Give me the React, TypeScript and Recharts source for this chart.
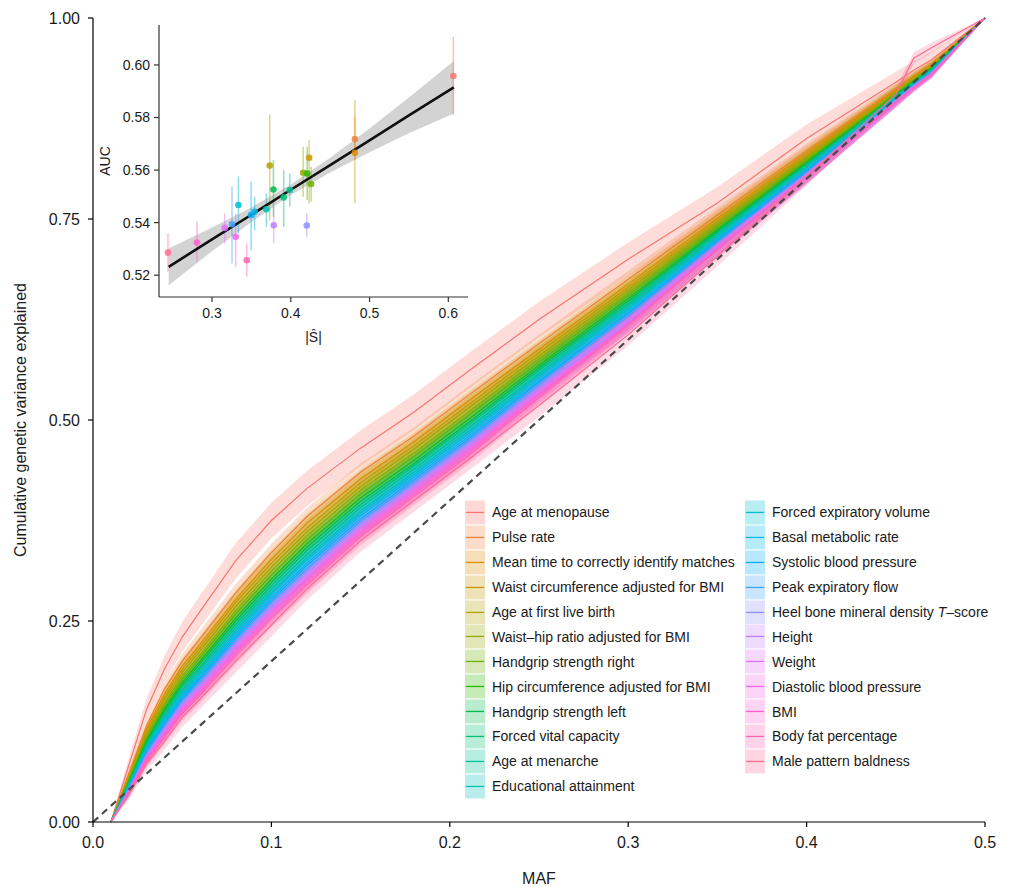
import React from 'react';
import { ComposedChart, Line, Area, XAxis, YAxis, ReferenceLine, Scatter, ErrorBar } from 'recharts';

const FONT = '"Liberation Sans", Arial, Helvetica, sans-serif';
const INK = '#1a1a1a';

// ---------- main panel data ----------
const mafGrid = [0.01, 0.02, 0.03, 0.04, 0.05, 0.06, 0.08, 0.10, 0.12, 0.15, 0.18, 0.21, 0.25, 0.30, 0.35, 0.40, 0.45, 0.46, 0.47, 0.50];

const ageAtMenopause = [0, 0.070, 0.140, 0.190, 0.230, 0.262, 0.325, 0.375, 0.415, 0.465, 0.510, 0.560, 0.625, 0.700, 0.770, 0.850, 0.920, 0.935, 0.948, 1];
const pulseRate = [0, 0.060, 0.120, 0.165, 0.200, 0.228, 0.285, 0.335, 0.380, 0.435, 0.480, 0.530, 0.595, 0.675, 0.755, 0.835, 0.912, 0.928, 0.943, 1];
const meanTimeMatches = [0, 0.058, 0.116, 0.159, 0.194, 0.221, 0.277, 0.327, 0.372, 0.427, 0.473, 0.523, 0.588, 0.669, 0.751, 0.832, 0.910, 0.927, 0.942, 1];
const waistCircAdj = [0, 0.056, 0.113, 0.155, 0.190, 0.217, 0.273, 0.322, 0.366, 0.422, 0.468, 0.518, 0.584, 0.665, 0.748, 0.829, 0.909, 0.926, 0.941, 1];
const ageFirstBirth = [0, 0.055, 0.110, 0.152, 0.186, 0.213, 0.268, 0.317, 0.361, 0.417, 0.464, 0.514, 0.580, 0.662, 0.745, 0.827, 0.908, 0.925, 0.940, 1];
const waistHipAdj = [0, 0.053, 0.107, 0.148, 0.182, 0.208, 0.263, 0.312, 0.356, 0.413, 0.459, 0.509, 0.576, 0.658, 0.742, 0.825, 0.907, 0.924, 0.939, 1];
const gripRight = [0, 0.052, 0.105, 0.145, 0.178, 0.204, 0.259, 0.307, 0.351, 0.408, 0.455, 0.505, 0.572, 0.655, 0.740, 0.823, 0.906, 0.923, 0.939, 1];
const hipCircAdj = [0, 0.050, 0.102, 0.141, 0.174, 0.200, 0.254, 0.302, 0.346, 0.403, 0.450, 0.500, 0.568, 0.651, 0.737, 0.821, 0.905, 0.922, 0.938, 1];
const gripLeft = [0, 0.049, 0.100, 0.138, 0.171, 0.197, 0.250, 0.298, 0.342, 0.399, 0.446, 0.496, 0.565, 0.648, 0.735, 0.819, 0.904, 0.921, 0.937, 1];
const forcedVital = [0, 0.048, 0.098, 0.135, 0.168, 0.193, 0.246, 0.294, 0.338, 0.395, 0.443, 0.493, 0.562, 0.645, 0.733, 0.818, 0.903, 0.920, 0.936, 1];
const ageMenarche = [0, 0.046, 0.095, 0.132, 0.164, 0.190, 0.242, 0.290, 0.333, 0.391, 0.439, 0.489, 0.558, 0.642, 0.730, 0.816, 0.902, 0.919, 0.935, 1];
const education = [0, 0.045, 0.093, 0.129, 0.161, 0.186, 0.238, 0.286, 0.329, 0.387, 0.435, 0.485, 0.555, 0.639, 0.728, 0.814, 0.901, 0.918, 0.934, 1];
const forcedExp = [0, 0.044, 0.091, 0.127, 0.158, 0.183, 0.235, 0.283, 0.326, 0.384, 0.432, 0.482, 0.552, 0.637, 0.726, 0.813, 0.900, 0.917, 0.934, 1];
const basalMetabolic = [0, 0.043, 0.089, 0.124, 0.156, 0.180, 0.232, 0.279, 0.322, 0.381, 0.429, 0.479, 0.549, 0.634, 0.724, 0.811, 0.899, 0.917, 0.933, 1];
const systolicBP = [0, 0.042, 0.088, 0.122, 0.153, 0.178, 0.229, 0.276, 0.319, 0.377, 0.426, 0.476, 0.547, 0.632, 0.723, 0.810, 0.899, 0.916, 0.933, 1];
const peakFlow = [0, 0.041, 0.086, 0.119, 0.151, 0.175, 0.226, 0.273, 0.315, 0.374, 0.423, 0.473, 0.544, 0.629, 0.721, 0.808, 0.898, 0.916, 0.932, 1];
const heelBone = [0, 0.040, 0.084, 0.117, 0.148, 0.172, 0.223, 0.269, 0.312, 0.371, 0.420, 0.470, 0.541, 0.620, 0.712, 0.803, 0.898, 0.915, 0.932, 1];
const heightTrait = [0, 0.039, 0.082, 0.115, 0.145, 0.169, 0.220, 0.266, 0.309, 0.368, 0.417, 0.467, 0.539, 0.625, 0.717, 0.806, 0.897, 0.915, 0.931, 1];
const weightTrait = [0, 0.038, 0.080, 0.112, 0.143, 0.166, 0.216, 0.263, 0.305, 0.365, 0.414, 0.464, 0.536, 0.622, 0.715, 0.804, 0.896, 0.914, 0.931, 1];
const diastolicBP = [0, 0.037, 0.079, 0.110, 0.140, 0.164, 0.213, 0.260, 0.302, 0.361, 0.411, 0.461, 0.533, 0.620, 0.714, 0.803, 0.896, 0.914, 0.930, 1];
const bmiTrait = [0, 0.036, 0.077, 0.107, 0.138, 0.161, 0.210, 0.256, 0.298, 0.358, 0.408, 0.458, 0.531, 0.619, 0.713, 0.803, 0.895, 0.913, 0.930, 1];
const bodyFat = [0, 0.035, 0.075, 0.105, 0.135, 0.158, 0.207, 0.253, 0.295, 0.355, 0.405, 0.455, 0.528, 0.618, 0.712, 0.803, 0.895, 0.913, 0.930, 1];
const baldness = [0, 0.033, 0.072, 0.100, 0.130, 0.153, 0.200, 0.245, 0.290, 0.350, 0.400, 0.450, 0.518, 0.606, 0.704, 0.803, 0.905, 0.950, 0.963, 1];

// confidence ribbon: shared shape along MAF and per-trait half-width
const ciProfile = [0, 0.4, 0.6, 0.75, 0.85, 0.9, 1, 1, 1, 1, 1, 1, 1, 0.95, 0.9, 0.8, 0.6, 0.5, 0.45, 0];
const ciHalfWidth = [0.022, 0.011, 0.011, 0.011, 0.011, 0.011, 0.011, 0.011, 0.011, 0.011, 0.011, 0.011, 0.011, 0.011, 0.011, 0.011, 0.012, 0.011, 0.011, 0.011, 0.011, 0.011, 0.014];

const traitNames = [
  'Age at menopause', 'Pulse rate', 'Mean time to correctly identify matches', 'Waist circumference adjusted for BMI',
  'Age at first live birth', 'Waist\u2013hip ratio adjusted for BMI', 'Handgrip strength right', 'Hip circumference adjusted for BMI',
  'Handgrip strength left', 'Forced vital capacity', 'Age at menarche', 'Educational attainment',
  'Forced expiratory volume', 'Basal metabolic rate', 'Systolic blood pressure', 'Peak expiratory flow',
  'Heel bone mineral density T\u2013score', 'Height', 'Weight', 'Diastolic blood pressure', 'BMI', 'Body fat percentage', 'Male pattern baldness',
];
const traitCurves = [
  ageAtMenopause, pulseRate, meanTimeMatches, waistCircAdj, ageFirstBirth, waistHipAdj, gripRight, hipCircAdj,
  gripLeft, forcedVital, ageMenarche, education, forcedExp, basalMetabolic, systolicBP, peakFlow,
  heelBone, heightTrait, weightTrait, diastolicBP, bmiTrait, bodyFat, baldness,
];

// ---------- inset data ----------
const insetS = [0.6064, 0.4814, 0.4814, 0.4233, 0.3733, 0.4157, 0.4258, 0.4208, 0.3780, 0.3910, 0.3987, 0.3690, 0.3335, 0.3542, 0.3496, 0.3254, 0.4203, 0.3784, 0.3161, 0.3301, 0.2809, 0.3441, 0.2441];
const insetAuc = [0.5958, 0.5718, 0.5666, 0.5647, 0.5617, 0.5590, 0.5547, 0.5587, 0.5526, 0.5496, 0.5524, 0.5451, 0.5467, 0.5441, 0.5429, 0.5394, 0.5389, 0.5390, 0.5380, 0.5346, 0.5324, 0.5257, 0.5286];
const insetLo = [0.5810, 0.5638, 0.5473, 0.5473, 0.5410, 0.5498, 0.5479, 0.5486, 0.5422, 0.5384, 0.5460, 0.5384, 0.5359, 0.5371, 0.5295, 0.5244, 0.5346, 0.5321, 0.5321, 0.5232, 0.5251, 0.5194, 0.5213];
const insetHi = [0.6108, 0.5803, 0.5867, 0.5714, 0.5810, 0.5689, 0.5613, 0.5689, 0.5638, 0.5600, 0.5587, 0.5511, 0.5575, 0.5498, 0.5556, 0.5537, 0.5435, 0.5460, 0.5435, 0.5435, 0.5403, 0.5321, 0.5359];

const regX = [0.245, 0.30, 0.35, 0.40, 0.45, 0.50, 0.55, 0.607];
const regFit = [0.5232, 0.5336, 0.5430, 0.5525, 0.5619, 0.5713, 0.5808, 0.5915];
const regLo = [0.5162, 0.5291, 0.5402, 0.5505, 0.5591, 0.5668, 0.5740, 0.5815];
const regHi = [0.5302, 0.5381, 0.5458, 0.5545, 0.5647, 0.5758, 0.5876, 0.6015];

const mainXTicks = [0, 0.1, 0.2, 0.3, 0.4, 0.5];
const mainYTicks = [0, 0.25, 0.5, 0.75, 1];
const insetXTicks = [0.3, 0.4, 0.5, 0.6];
const insetYTicks = [0.52, 0.54, 0.56, 0.58, 0.60];

// ---------- colours (ggplot2 default hue palette, HCL c=100 l=65) ----------
function hcl(h: number, c = 100, l = 65): [number, number, number] {
  const hr = (h * Math.PI) / 180;
  const u = c * Math.cos(hr);
  const v = c * Math.sin(hr);
  const Xn = 95.047, Yn = 100, Zn = 108.883;
  const Y = l > 8 ? Yn * Math.pow((l + 16) / 116, 3) : (Yn * l) / 903.3;
  const den = Xn + 15 * Yn + 3 * Zn;
  const un = (4 * Xn) / den;
  const vn = (9 * Yn) / den;
  const up = u / (13 * l) + un;
  const vp = v / (13 * l) + vn;
  const X = (Y * 9 * up) / (4 * vp);
  const Z = (Y * (12 - 3 * up - 20 * vp)) / (4 * vp);
  const x = X / 100, y = Y / 100, z = Z / 100;
  const lin = [
    3.2404542 * x - 1.5371385 * y - 0.4985314 * z,
    -0.969266 * x + 1.8760108 * y + 0.041556 * z,
    0.0556434 * x - 0.2040259 * y + 1.0572252 * z,
  ];
  const g = lin.map((t) => {
    const s = t <= 0.0031308 ? 12.92 * t : 1.055 * Math.pow(t, 1 / 2.4) - 0.055;
    return Math.round(Math.max(0, Math.min(1, s)) * 255);
  });
  return [g[0], g[1], g[2]];
}
const N = traitNames.length;
const rgbs = traitNames.map((_, i) => hcl(15 + (360 * i) / N));
const colors = rgbs.map(([r, g, b]) => `rgb(${r},${g},${b})`);
const RIBBON_ALPHA = 0.26;

// ---------- tables for recharts ----------
const mainRows = mafGrid.map((maf, j) => {
  const row: Record<string, any> = { maf };
  traitCurves.forEach((arr, i) => {
    const hw = ciHalfWidth[i] * ciProfile[j];
    row[`t${i}`] = arr[j];
    row[`r${i}`] = [Math.max(0, arr[j] - hw), Math.min(1, arr[j] + hw)];
  });
  return row;
});

const regRows = regX.map((x, j) => ({ x, fit: regFit[j], band: [regLo[j], regHi[j]] }));

const insetPoints = insetS.map((s, i) => [{ x: s, y: insetAuc[i], err: [insetAuc[i] - insetLo[i], insetHi[i] - insetAuc[i]] }]);

// ---------- labels ----------
const MainYTitle = (props: any) => {
  const vb = props.viewBox || { x: 0, y: 10, width: 85, height: 804 };
  const cx = vb.x + 12;
  const cy = vb.y + vb.height / 2;
  return (
    <text x={cx} y={cy} transform={`rotate(-90, ${cx}, ${cy})`} textAnchor="middle" dominantBaseline="central" fontSize={16} fill={INK} fontFamily={FONT}>
      Cumulative genetic variance explained
    </text>
  );
};
const MainXTitle = (props: any) => {
  const vb = props.viewBox || { x: 85, y: 814, width: 892, height: 65 };
  const cx = vb.x + vb.width / 2;
  const cy = vb.y + 56;
  return (
    <text x={cx} y={cy} textAnchor="middle" dominantBaseline="central" fontSize={16} fill={INK} fontFamily={FONT}>
      MAF
    </text>
  );
};
const InsetYTitle = (props: any) => {
  const vb = props.viewBox || { x: 0, y: 5, width: 71, height: 272 };
  const cx = vb.x + 17;
  const cy = vb.y + vb.height / 2;
  return (
    <text x={cx} y={cy} transform={`rotate(-90, ${cx}, ${cy})`} textAnchor="middle" dominantBaseline="central" fontSize={14} fill={INK} fontFamily={FONT}>
      AUC
    </text>
  );
};
const InsetXTitle = (props: any) => {
  const vb = props.viewBox || { x: 71, y: 277, width: 309, height: 60 };
  const cx = vb.x + vb.width / 2;
  const cy = vb.y + 40;
  return (
    <text x={cx} y={cy} textAnchor="middle" dominantBaseline="central" fontSize={14} fill={INK} fontFamily={FONT}>
      |Ŝ|
    </text>
  );
};

const LegendRow = ({ i }: { i: number }) => {
  const name = traitNames[i];
  const [r, g, b] = rgbs[i];
  const isHeel = name.startsWith('Heel');
  return (
    <div style={{ display: 'flex', alignItems: 'center', height: 24.9 }}>
      <svg width={20} height={24.9} style={{ display: 'block', flex: '0 0 auto' }}>
        <rect x={0} y={0.5} width={20} height={23.9} fill={`rgba(${r},${g},${b},0.28)`} />
        <line x1={1} x2={19} y1={12.45} y2={12.45} stroke={colors[i]} strokeWidth={1.3} />
      </svg>
      <span style={{ marginLeft: 7, fontSize: 14, color: INK, whiteSpace: 'nowrap', fontFamily: FONT }}>
        {isHeel ? (
          <>
            Heel bone mineral density <i>T</i>{'\u2013score'}
          </>
        ) : (
          name
        )}
      </span>
    </div>
  );
};

export default function App() {
  const W = 1007;
  const H = 879;
  const col1 = Array.from({ length: 12 }, (_, k) => k);
  const col2 = Array.from({ length: 11 }, (_, k) => k + 12);
  return (
    <div style={{ position: 'relative', width: W, height: H, fontFamily: FONT, background: '#fff' }}>
      <ComposedChart width={W} height={H} data={mainRows} margin={{ top: 10, right: 30, bottom: 0, left: 0 }}>
        <XAxis
          type="number"
          dataKey="maf"
          domain={[0, 0.5]}
          ticks={mainXTicks}
          tickFormatter={(v: number) => v.toFixed(1)}
          height={65}
          tickSize={5}
          tickMargin={10}
          axisLine={{ stroke: '#000', strokeWidth: 1.2 }}
          tickLine={{ stroke: '#000', strokeWidth: 1.2 }}
          tick={{ fontSize: 16, fill: INK, fontFamily: FONT }}
          label={<MainXTitle />}
        />
        <YAxis
          type="number"
          domain={[0, 1]}
          ticks={mainYTicks}
          tickFormatter={(v: number) => v.toFixed(2)}
          width={85}
          tickSize={5}
          tickMargin={8}
          axisLine={{ stroke: '#000', strokeWidth: 1.2 }}
          tickLine={{ stroke: '#000', strokeWidth: 1.2 }}
          tick={{ fontSize: 16, fill: INK, fontFamily: FONT }}
          label={<MainYTitle />}
        />
        {traitNames.map((n, i) => (
          <Area
            key={`rib${i}`}
            type="linear"
            dataKey={`r${i}`}
            stroke="none"
            fill={colors[i]}
            fillOpacity={RIBBON_ALPHA}
            isAnimationActive={false}
            activeDot={false}
          />
        ))}
        {traitNames.map((n, i) => (
          <Line
            key={`ln${i}`}
            type="linear"
            dataKey={`t${i}`}
            stroke={colors[i]}
            strokeWidth={1.2}
            dot={false}
            activeDot={false}
            isAnimationActive={false}
          />
        ))}
        <ReferenceLine
          segment={[{ x: 0, y: 0 }, { x: 0.5, y: 1 }]}
          stroke="#4a4a4a"
          strokeWidth={2.2}
          strokeDasharray="7 5"
        />
      </ComposedChart>

      <div style={{ position: 'absolute', left: 80, top: 12 }}>
        <ComposedChart width={385} height={337} data={regRows} margin={{ top: 5, right: 5, bottom: 0, left: 0 }}>
          <XAxis
            type="number"
            dataKey="x"
            domain={[0.2327, 0.625]}
            ticks={insetXTicks}
            tickFormatter={(v: number) => v.toFixed(1)}
            height={60}
            tickSize={5}
            tickMargin={6}
            allowDataOverflow
            axisLine={{ stroke: '#333', strokeWidth: 1.2 }}
            tickLine={{ stroke: '#333', strokeWidth: 1.2 }}
            tick={{ fontSize: 14, fill: INK, fontFamily: FONT }}
            label={<InsetXTitle />}
          />
          <YAxis
            type="number"
            domain={[0.5117, 0.6152]}
            ticks={insetYTicks}
            tickFormatter={(v: number) => v.toFixed(2)}
            width={71}
            tickSize={5}
            tickMargin={4}
            allowDataOverflow
            axisLine={{ stroke: '#333', strokeWidth: 1.2 }}
            tickLine={{ stroke: '#333', strokeWidth: 1.2 }}
            tick={{ fontSize: 14, fill: INK, fontFamily: FONT }}
            label={<InsetYTitle />}
          />
          <Area type="linear" dataKey="band" stroke="none" fill="#b5b5b5" fillOpacity={0.6} isAnimationActive={false} activeDot={false} />
          {insetPoints.map((pts, i) => (
            <Scatter
              key={`pt${i}`}
              data={pts}
              dataKey="y"
              fill={colors[i]}
              isAnimationActive={false}
              shape={(p: any) => <circle cx={p.cx} cy={p.cy} r={3.3} fill={colors[i]} fillOpacity={0.85} />}
            >
              <ErrorBar dataKey="err" direction="y" width={0} stroke={colors[i]} strokeOpacity={0.45} strokeWidth={1.5} isAnimationActive={false} />
            </Scatter>
          ))}
          <Line type="linear" dataKey="fit" stroke="#111" strokeWidth={2.6} dot={false} activeDot={false} isAnimationActive={false} />
        </ComposedChart>
      </div>

      <div style={{ position: 'absolute', left: 457, top: 492, display: 'flex' }}>
        <div style={{ width: 280 }}>
          {col1.map((i) => (
            <LegendRow key={i} i={i} />
          ))}
        </div>
        <div>
          {col2.map((i) => (
            <LegendRow key={i} i={i} />
          ))}
        </div>
      </div>
    </div>
  );
}
